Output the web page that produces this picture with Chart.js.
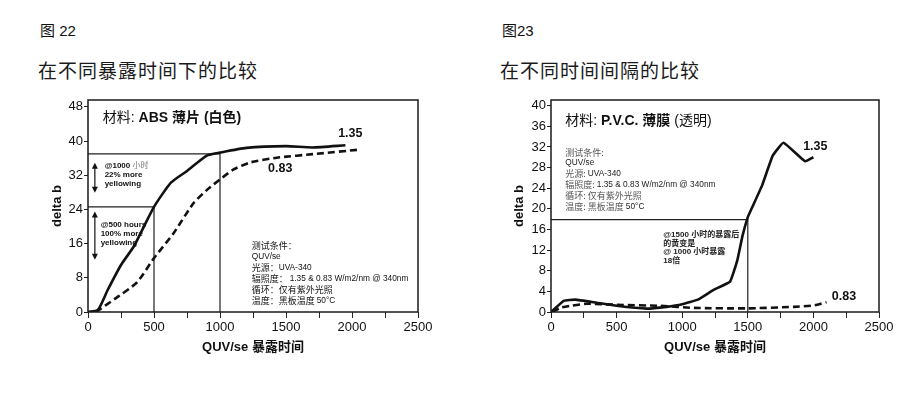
<!DOCTYPE html>
<html lang="zh-CN">
<head>
<meta charset="utf-8">
<script src="https://cdn.jsdelivr.net/npm/chart.js"></script>
<style>
  body { margin: 0; background: #fff; width: 920px; height: 397px; position: relative; overflow: hidden;
         font-family: "Liberation Sans", "Noto Sans CJK SC", sans-serif; color: #111; }
  .fig { position: absolute; font-size: 15px; line-height: 20px; }
  .sub { position: absolute; font-size: 19px; line-height: 24px; letter-spacing: 1px; font-weight: 400; color: #1a1a1a; }
  canvas { position: absolute; top: 90px; }
</style>
</head>
<body>
<div class="fig" style="left:40px; top:21px;">图 22</div>
<div class="sub" style="left:38px; top:60px;">在不同暴露时间下的比较</div>
<div class="fig" style="left:502px; top:21px;">图23</div>
<div class="sub" style="left:500px; top:60px;">在不同时间间隔的比较</div>
<canvas id="absChart" width="460" height="300" style="left:0"></canvas>
<canvas id="pvcChart" width="460" height="300" style="left:460px"></canvas>
<script>
// 图22 ABS 薄片
const absHours135 = [0, 75, 150, 250, 350, 500, 630, 750, 900, 1000, 1200, 1500, 1700, 1950];
const absDelta135 = [0, 0.5, 5.2, 11, 15.5, 24.6, 30.3, 33, 36.6, 37.3, 38.4, 38.8, 38.5, 39];
const absHours083 = [60, 200, 370, 500, 650, 800, 910, 1000, 1100, 1230, 1430, 1730, 2060];
const absDelta083 = [0, 3, 6.9, 12.6, 18.5, 25.5, 28.8, 31, 33.3, 35, 36.1, 37, 38];
const absRefHours = [[0, 1000, 1000], [0, 500, 500]];
const absRefDelta = [[37.0, 37.0, 0], [24.6, 24.6, 0]];

// 图23 P.V.C. 薄膜
const pvcHours135 = [0, 100, 185, 325, 500, 730, 880, 1000, 1120, 1240, 1365, 1420, 1460, 1500, 1530, 1610, 1690, 1772, 1937, 2000];
const pvcDelta135 = [0, 2.2, 2.4, 1.9, 1.2, 0.65, 1.0, 1.5, 2.4, 4.3, 5.9, 10, 14.8, 18.4, 20.1, 24.6, 30.3, 32.8, 29.2, 30.0];
const pvcHours083 = [10, 70, 150, 275, 500, 830, 1090, 1490, 1850, 2010, 2100];
const pvcDelta083 = [0, 0.8, 1.2, 1.6, 1.4, 1.2, 0.8, 0.7, 1.0, 1.3, 1.9];
const pvcRefHours = [[0, 1500, 1500]];
const pvcRefDelta = [[17.9, 17.9, 0]];

const xTicks = [0, 500, 1000, 1500, 2000, 2500];
const absYTicks = [0, 8, 16, 24, 32, 40, 48];
const pvcYTicks = [0, 4, 8, 12, 16, 20, 24, 28, 32, 36, 40];

const LATIN = '"Liberation Sans", "Noto Sans CJK SC", sans-serif';
const CJK = '"Noto Sans CJK SC", sans-serif';
const ink = '#111';

function pairs(xs, ys) {
    return xs.map((v, i) => ({ x: v, y: ys[i] }));
}

function refSets(xsList, ysList) {
    return xsList.map((xs, i) => ({
        data: pairs(xs, ysList[i]),
        borderColor: '#222',
        borderWidth: 1.2,
        pointRadius: 0,
        tension: 0,
        order: 3
    }));
}

// 画边框、文字和箭头
const notesPlugin = {
    id: 'notes',
    afterDraw(chart, args, opts) {
        const { ctx, chartArea: a } = chart;
        const sx = chart.scales.x, sy = chart.scales.y;
        ctx.save();
        ctx.strokeStyle = '#1a1a1a';
        ctx.lineWidth = 1.5;
        ctx.strokeRect(a.left, a.top, a.right - a.left, a.bottom - a.top);
        ctx.textBaseline = 'middle';
        ctx.textAlign = 'left';
        (opts.texts || []).forEach(t => {
            let px = sx.getPixelForValue(t.x);
            const py = sy.getPixelForValue(t.y);
            t.parts.forEach(p => {
                ctx.font = p[1];
                ctx.fillStyle = p[2] || ink;
                ctx.fillText(p[0], px, py);
                px += ctx.measureText(p[0]).width;
            });
        });
        (opts.arrows || []).forEach(ar => {
            const px = sx.getPixelForValue(ar.x);
            const y1 = sy.getPixelForValue(ar.y1);
            const y2 = sy.getPixelForValue(ar.y2);
            ctx.strokeStyle = ink;
            ctx.fillStyle = ink;
            ctx.lineWidth = 1.2;
            ctx.beginPath();
            ctx.moveTo(px, y1 + 4);
            ctx.lineTo(px, y2 - 4);
            ctx.stroke();
            ctx.beginPath();
            ctx.moveTo(px, y1);
            ctx.lineTo(px - 3, y1 + 6);
            ctx.lineTo(px + 3, y1 + 6);
            ctx.closePath();
            ctx.fill();
            ctx.beginPath();
            ctx.moveTo(px, y2);
            ctx.lineTo(px - 3, y2 - 6);
            ctx.lineTo(px + 3, y2 - 6);
            ctx.closePath();
            ctx.fill();
        });
        ctx.restore();
    }
};

function makeChart(id, cfg) {
    const ctx = document.getElementById(id).getContext('2d');
    return new Chart(ctx, {
        type: 'line',
        data: {
            datasets: [
                {
                    data: pairs(cfg.h135, cfg.d135),
                    borderColor: ink,
                    borderWidth: 2.6,
                    pointRadius: 0,
                    tension: cfg.tension,
                    order: 1
                },
                {
                    data: pairs(cfg.h083, cfg.d083),
                    borderColor: ink,
                    borderWidth: 2.6,
                    borderDash: [7, 4],
                    pointRadius: 0,
                    tension: 0.2,
                    order: 2
                }
            ].concat(refSets(cfg.refH, cfg.refD))
        },
        options: {
            responsive: false,
            animation: false,
            devicePixelRatio: 1,
            layout: { padding: { top: 10, right: cfg.padRight, left: 0, bottom: 0 } },
            plugins: {
                legend: { display: false },
                tooltip: { enabled: false },
                notes: cfg.notes
            },
            scales: {
                x: {
                    type: 'linear',
                    min: 0,
                    max: 2500,
                    afterFit: s => { s.height = 78; },
                    border: { display: false },
                    grid: { drawOnChartArea: false, drawTicks: true, tickLength: 6, color: '#222' },
                    ticks: {
                        stepSize: 250,
                        autoSkip: false,
                        maxRotation: 0,
                        padding: 2,
                        color: ink,
                        font: { family: LATIN, size: 13 },
                        callback: v => xTicks.includes(v) ? String(v) : ''
                    },
                    title: {
                        display: true,
                        text: 'QUV/se 暴露时间',
                        color: ink,
                        font: { family: LATIN, size: 13, weight: 'bold' },
                        padding: { top: 0, bottom: 35 }
                    }
                },
                y: {
                    min: 0,
                    max: cfg.yMax,
                    afterFit: s => { s.width = cfg.yWidth; },
                    border: { display: false },
                    grid: { drawOnChartArea: false, drawTicks: true, tickLength: 4, color: '#222' },
                    ticks: {
                        stepSize: cfg.yStep,
                        includeBounds: false,
                        padding: 1,
                        color: ink,
                        font: { family: LATIN, size: 13 },
                        callback: v => cfg.yTicks.includes(v) ? String(v) : ''
                    },
                    title: {
                        display: true,
                        text: 'delta b',
                        color: ink,
                        font: { family: LATIN, size: 13, weight: 'bold' },
                        padding: { top: cfg.yTitlePad, bottom: 0 }
                    }
                }
            }
        },
        plugins: [notesPlugin]
    });
}

const fReg = '14px ' + LATIN;
const fBold = 'bold 14px ' + LATIN;
const fNum = 'bold 12.5px ' + LATIN;
const fHan = '9px ' + CJK;
const fLat = '8.3px ' + LATIN;
const fTiny = 'bold 8px ' + LATIN;
const fTinyGray = '8px ' + LATIN;

makeChart('absChart', {
    h135: absHours135, d135: absDelta135,
    h083: absHours083, d083: absDelta083,
    refH: absRefHours, refD: absRefDelta,
    tension: 0.2,
    yMax: 49.6, yStep: 8, yTicks: absYTicks,
    yWidth: 88, padRight: 42, yTitlePad: 50,
    notes: {
        texts: [
            { x: 112, y: 45.4, parts: [['材料: ', fReg], ['ABS 薄片 ', fBold], ['(白色)', '600 14px ' + LATIN]] },
            { x: 1895, y: 41.7, parts: [['1.35', fNum]] },
            { x: 1364, y: 33.5, parts: [['0.83', fNum]] },
            { x: 126, y: 34.2, parts: [['@1000 ', fTiny], ['小时', fTinyGray, '#777']] },
            { x: 126, y: 32.0, parts: [['22% more', fTiny]] },
            { x: 126, y: 29.9, parts: [['yellowing', fTiny]] },
            { x: 96, y: 20.4, parts: [['@500 hours', fTiny]] },
            { x: 96, y: 18.3, parts: [['100% more', fTiny]] },
            { x: 96, y: 16.2, parts: [['yellowing', fTiny]] },
            { x: 1240, y: 15.5, parts: [['测试条件：', fHan]] },
            { x: 1240, y: 12.9, parts: [['QUV/se', fLat]] },
            { x: 1240, y: 10.3, parts: [['光源：', fHan], ['UVA-340', fLat]] },
            { x: 1240, y: 7.8, parts: [['辐照度： ', fHan], ['1.35 & 0.83 W/m2/nm @ 340nm', fLat]] },
            { x: 1240, y: 5.2, parts: [['循环：仅有紫外光照', fHan]] },
            { x: 1240, y: 2.6, parts: [['温度：黑板温度 ', fHan], ['50°C', fLat]] }
        ],
        arrows: [
            { x: 52, y1: 34.9, y2: 27.9 },
            { x: 52, y1: 23.5, y2: 12.2 }
        ]
    }
});

makeChart('pvcChart', {
    h135: pvcHours135, d135: pvcDelta135,
    h083: pvcHours083, d083: pvcDelta083,
    refH: pvcRefHours, refD: pvcRefDelta,
    tension: 0.1,
    yMax: 41.1, yStep: 4, yTicks: pvcYTicks,
    yWidth: 91, padRight: 41, yTitlePad: 52,
    notes: {
        texts: [
            { x: 109, y: 37.0, parts: [['材料: ', fReg], ['P.V.C. 薄膜 ', fBold], ['(透明)', fReg]] },
            { x: 1922, y: 32.0, parts: [['1.35', fNum]] },
            { x: 2140, y: 3.0, parts: [['0.83', fNum]] },
            { x: 109, y: 31.0, parts: [['测试条件:', fHan, '#555']] },
            { x: 109, y: 28.9, parts: [['QUV/se', fLat, '#222']] },
            { x: 109, y: 26.8, parts: [['光源: ', fHan, '#555'], ['UVA-340', fLat, '#222']] },
            { x: 109, y: 24.7, parts: [['辐照度: ', fHan, '#555'], ['1.35 & 0.83 W/m2/nm @ 340nm', fLat, '#222']] },
            { x: 109, y: 22.6, parts: [['循环: 仅有紫外光照', fHan, '#555']] },
            { x: 109, y: 20.5, parts: [['温度: 黑板温度 ', fHan, '#555'], ['50°C', fLat, '#222']] },
            { x: 856, y: 14.9, parts: [['@1500 小时的暴露后', fTiny, '#222']] },
            { x: 856, y: 13.2, parts: [['的黄变是', fTiny, '#222']] },
            { x: 856, y: 11.6, parts: [['@ 1000 小时暴露', fTiny, '#222']] },
            { x: 856, y: 9.9, parts: [['18倍', fTiny, '#222']] }
        ]
    }
});
</script>
</body>
</html>
